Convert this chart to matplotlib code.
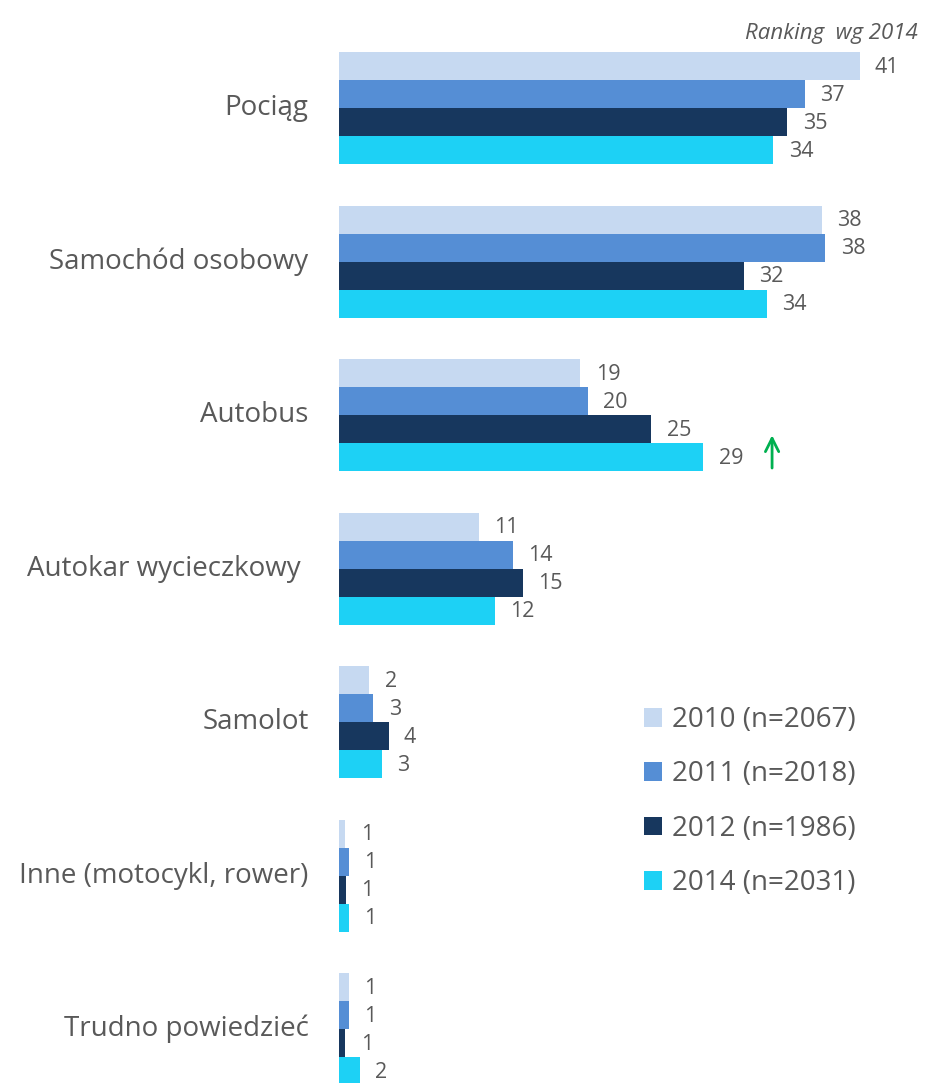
import matplotlib.pyplot as plt
import numpy as np

plt.rcParams['font.family'] = ['Open Sans', 'DejaVu Sans']

# Dane
kategorie = ['Pociąg', 'Samochód osobowy', 'Autobus', 'Autokar wycieczkowy',
             'Samolot', 'Inne (motocykl, rower)', 'Trudno powiedzieć']
lata = ['2010 (n=2067)', '2011 (n=2018)', '2012 (n=1986)', '2014 (n=2031)']
v2010 = [41.0, 38.0, 19.0, 11.0, 2.4, 0.5, 0.8]
v2011 = [36.7, 38.3, 19.6, 13.7, 2.7, 0.8, 0.8]
v2012 = [35.3, 31.9, 24.6, 14.5, 3.9, 0.55, 0.5]
v2014 = [34.2, 33.7, 28.7, 12.3, 3.4, 0.8, 1.65]
etykiety2010 = ['41', '38', '19', '11', '2', '1', '1']
etykiety2011 = ['37', '38', '20', '14', '3', '1', '1']
etykiety2012 = ['35', '32', '25', '15', '4', '1', '1']
etykiety2014 = ['34', '34', '29', '12', '3', '1', '2']

cores = ['#C6D9F1', '#558ED5', '#17375E', '#1DD1F5']
szary = '#595959'

series = [v2010, v2011, v2012, v2014]
etykiety = [etykiety2010, etykiety2011, etykiety2012, etykiety2014]

fig = plt.figure(figsize=(9.33, 10.83), dpi=100)
ax = fig.add_axes([339 / 933, 0, 1 - 339 / 933, 1])

passo = 153.5
h = 28 / passo
y = np.arange(len(kategorie))

barras = []
for i, (vals, labs) in enumerate(zip(series, etykiety)):
    pos = y + (i - 1.5) * h
    b = ax.barh(pos, vals, height=h, color=cores[i], label=lata[i])
    barras.append(b)
    for p, v, t in zip(pos, vals, labs):
        ax.annotate(t, (v, p), xytext=(11, -1), textcoords='offset points',
                    ha='left', va='center', fontsize=15.5, color=szary)

# seta verde no Autobus 2014
ax.annotate('', xy=(v2014[2] + 5.4, 2 + 1.5 * h - 0.16),
            xytext=(v2014[2] + 5.4, 2 + 1.5 * h + 0.09),
            arrowprops=dict(arrowstyle='->', color='#00B050', lw=2,
                            mutation_scale=24))

ax.set_xlim(0, (933 - 339) / 12.7)
ax.set_ylim((1083 - 108) / passo, -108 / passo)
ax.axis('off')

for c, pos in zip(kategorie, y):
    ax.text(-2.4 if c != 'Autokar wycieczkowy' else -3.0, pos, c,
            ha='right', va='center', fontsize=20, color=szary)

fig.text(918 / 933, 1 - 34 / 1083, 'Ranking  wg 2014', ha='right', va='center',
         fontsize=16, style='italic', color=szary)

leg = ax.legend(handles=barras, loc='upper left',
                bbox_to_anchor=((619 - 339) / (933 - 339), 1 - 681 / 1083),
                frameon=False, fontsize=20, handlelength=0.65, handleheight=0.65,
                handletextpad=0.35, labelspacing=0.95)
for t in leg.get_texts():
    t.set_color(szary)

plt.savefig('out.png', dpi=100)
